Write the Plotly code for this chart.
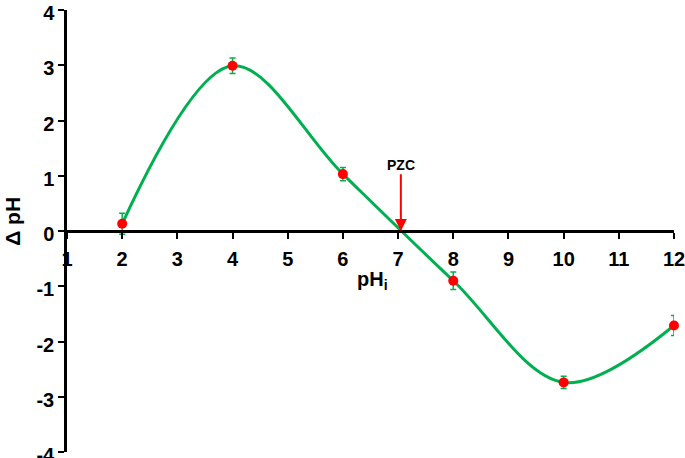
import plotly.graph_objects as go

# Data
ph_initial = [2, 4, 6, 8, 10, 12]
delta_ph = [0.13, 2.99, 1.03, -0.90, -2.74, -1.71]
delta_err = [0.19, 0.14, 0.12, 0.16, 0.11, 0.18]
x_ticks = [1, 2, 3, 4, 5, 6, 7, 8, 9, 10, 11, 12]
y_ticks = [-4, -3, -2, -1, 0, 1, 2, 3, 4]
y_tick_text = ["-4", "-3", "-2", "-1", "0", "1", "2", "3", "4"]
pzc_value = 7.05

FONT = "Liberation Sans, Arial, sans-serif"
GREEN = "#00B050"
RED = "#FF0000"

fig = go.Figure()
fig.add_trace(go.Scatter(
    x=ph_initial, y=delta_ph, mode="lines",
    line=dict(color=GREEN, width=3, shape="spline", smoothing=1.0),
    hoverinfo="skip", showlegend=False, cliponaxis=False,
))
fig.add_trace(go.Scatter(
    x=ph_initial, y=delta_ph, mode="markers",
    marker=dict(color=RED, size=10),
    error_y=dict(type="data", array=delta_err, visible=True,
                 color=GREEN, thickness=1.5, width=3),
    showlegend=False, cliponaxis=False,
))

fig.add_annotation(
    x=pzc_value, y=0, xref="x", yref="y",
    ax=pzc_value, ay=1.2, axref="x", ayref="y",
    text="PZC", showarrow=True, arrowhead=2, arrowsize=1.2, arrowwidth=2,
    arrowcolor=RED, standoff=0,
    font=dict(family=FONT, size=14, color="black", weight=700),
)
fig.add_annotation(
    x=0.503, y=0.387, xref="paper", yref="paper",
    xanchor="center", yanchor="middle",
    text="pH<sub>i</sub>", showarrow=False,
    font=dict(family=FONT, size=20, color="black", weight=700),
)
fig.add_annotation(
    x=-0.089, y=0.523, xref="paper", yref="paper",
    xanchor="center", yanchor="middle",
    text="Δ pH", showarrow=False, textangle=-90,
    font=dict(family=FONT, size=21, color="black", weight=700),
)

fig.update_layout(
    width=685, height=458,
    margin=dict(l=67, r=11, t=10, b=6, autoexpand=False),
    paper_bgcolor="white", plot_bgcolor="white",
    font=dict(family=FONT, color="black"),
)
fig.update_xaxes(
    range=[1, 12], tickvals=x_ticks, showgrid=False, zeroline=False,
    showline=True, linecolor="black", linewidth=2.5,
    ticks="outside", ticklen=6, tickwidth=2, tickcolor="black",
    anchor="free", position=0.5, automargin=False,
    ticklabeloverflow="allow", ticklabelstandoff=3,
    tickfont=dict(family=FONT, size=20, color="black", weight=700),
)
fig.update_yaxes(
    range=[-4, 4], tickvals=y_ticks, ticktext=y_tick_text,
    showgrid=False, zeroline=False,
    showline=True, linecolor="black", linewidth=2.5,
    ticks="outside", ticklen=6, tickwidth=2, tickcolor="black",
    automargin=False, ticklabeloverflow="allow", ticklabelshift=3,
    tickfont=dict(family=FONT, size=20, color="black", weight=700),
)

fig.write_html(
    "out.html",
    config={"displayModeBar": False},
    post_script="document.body.style.margin='0';document.body.style.overflow='hidden';",
)
